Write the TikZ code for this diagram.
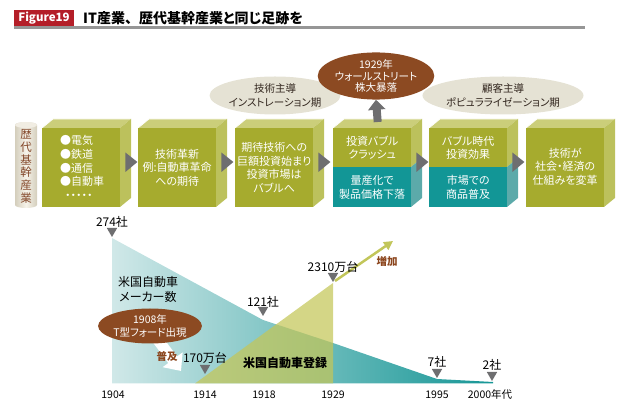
\documentclass[tikz,border=0pt]{standalone}
\usepackage{fontspec}
\setmainfont[RawFeature=+palt]{Noto Sans CJK JP}
\usetikzlibrary{arrows.meta,shapes.geometric,calc}
\definecolor{figred}{RGB}{180,30,40}
\definecolor{boxfront}{RGB}{166,171,46}
\definecolor{boxtop}{RGB}{203,206,122}
\definecolor{boxside}{RGB}{188,193,92}
\definecolor{tealfront}{RGB}{18,150,150}
\definecolor{tealside}{RGB}{92,170,170}
\definecolor{beigeell}{RGB}{229,226,212}
\definecolor{brownell}{RGB}{140,74,34}
\definecolor{triGray}{RGB}{110,110,112}
\definecolor{cylside}{RGB}{212,206,188}
\definecolor{cylmid}{RGB}{246,243,234}
\definecolor{cyltext}{RGB}{130,70,40}
\definecolor{chartL}{RGB}{208,232,232}
\definecolor{chartR}{RGB}{22,150,150}
\definecolor{regfill}{RGB}{196,198,88}
\definecolor{incr}{RGB}{194,198,90}
\definecolor{brownlabel}{RGB}{140,70,30}
\definecolor{ruleGray}{RGB}{150,150,150}
\definecolor{elltext}{RGB}{50,38,30}

\newcommand\cubeback[2]{%
  \fill[boxtop] (#1,128) -- (#1+11,119) -- (#1+89,119) -- (#1+78,128) -- cycle;
  \draw[white, line width=0.7pt] (#1,128) -- (#1+11,119) -- (#1+89,119);
  \ifnum#2=1
    \fill[boxside] (#1+78,128) -- (#1+89,119) -- (#1+89,158) -- (#1+78,167) -- cycle;
    \fill[tealside] (#1+78,167) -- (#1+89,158) -- (#1+89,198) -- (#1+78,207) -- cycle;
  \else
    \fill[boxside] (#1+78,128) -- (#1+89,119) -- (#1+89,198) -- (#1+78,207) -- cycle;
  \fi
}

\begin{document}
\begin{tikzpicture}[x=1pt,y=-1pt,
  font=\fontsize{11}{13.5}\selectfont,
  front/.style={fill=boxfront, minimum width=78pt, minimum height=79pt, inner sep=0pt, anchor=north west},
  fronthalf/.style={fill=boxfront, minimum width=78pt, minimum height=39pt, inner sep=0pt, anchor=north west},
  tealhalf/.style={fill=tealfront, minimum width=78pt, minimum height=40pt, inner sep=0pt, anchor=north west},
  boxtext/.style={text=white, align=center, inner sep=0pt},
  phase/.style={ellipse, fill=beigeell, text=elltext, align=center, inner sep=0pt},
  event/.style={ellipse, fill=brownell, text=white, align=center, inner sep=0pt},
  downtri/.style={regular polygon, regular polygon sides=3, shape border rotate=180, fill=triGray, minimum size=12pt, inner sep=0pt},
  chartlabel/.style={font=\fontsize{12}{14}\selectfont, inner sep=0pt},
  yearlabel/.style={font=\fontsize{10.5}{12}\selectfont, inner sep=0pt}]
\useasboundingbox (0,0) rectangle (630,411);

% title
\node[fill=figred, text=white, minimum width=60pt, minimum height=16pt, inner sep=0pt, font=\bfseries\fontsize{11.5}{12}\selectfont] (fig) at (44,18) {Figure19};
\node[anchor=west, inner sep=0pt, font=\bfseries\fontsize{14}{15}\selectfont] (title) at (83,18) {IT産業、\hspace{7pt}歴代基幹産業と同じ足跡を};
\draw[ruleGray, line width=2.5pt] (14,27.5) -- (585,27.5);

% cylinder
\shade[left color=cylside, right color=cylside, middle color=cylmid] (15,125) -- (15,205) arc[start angle=180, end angle=0, x radius=11, y radius=3] -- (37,125) arc[start angle=0, end angle=-180, x radius=11, y radius=3] -- cycle;
\fill[cylmid!85!cylside] (26,125) ellipse[x radius=11, y radius=3];
\node[text=cyltext, align=center, inner sep=0pt, font=\fontsize{11.5}{12.7}\selectfont] (cyl) at (26,166.5) {歴\\代\\基\\幹\\産\\業};

% cubes
\cubeback{42}{0}
\cubeback{138}{0}
\cubeback{235}{0}
\cubeback{333}{1}
\cubeback{429}{1}
\cubeback{526}{0}
\node[front] (b1) at (42,128) {};
\node[front] (b2) at (138,128) {};
\node[front] (b3) at (235,128) {};
\node[fronthalf] (b4) at (333,128) {};
\node[tealhalf] (b4t) at (333,167) {};
\node[fronthalf] (b5) at (429,128) {};
\node[tealhalf] (b5t) at (429,167) {};
\node[front] (b6) at (526,128) {};

\node[boxtext, align=left, anchor=west, font=\fontsize{11}{13.7}\selectfont] (t1) at (60,167.5) {●電気\\●鉄道\\●通信\\●自動車\\\ \ ・・・・・};
\node[boxtext] (t2) at (b2.center) {技術革新\\例:自動車革命\\への期待};
\node[boxtext] (t3) at (b3.center) {期待技術への\\巨額投資始まり\\投資市場は\\バブルへ};
\node[boxtext] (t4) at (b4.center) {投資バブル\\クラッシュ};
\node[boxtext] (t4t) at (b4t.center) {量産化で\\製品価格下落};
\node[boxtext] (t5) at (b5.center) {バブル時代\\投資効果};
\node[boxtext] (t5t) at (b5t.center) {市場での\\商品普及};
\node[boxtext] (t6) at ($(b6.center)+(0,-1)$) {技術が\\社会・経済の\\仕組みを変革};

% connector triangles
\foreach \a in {b1,b2,b3,b4,b5}
  \fill[triGray] ($(\a.north east)+(5,24.5)$) -- ($(\a.north east)+(17,34)$) -- ($(\a.north east)+(5,44)$) -- cycle;

% ellipses
\node[phase, minimum width=110pt, minimum height=38pt, font=\fontsize{10.5}{13.5}\selectfont] (p1) at (275,95.5) {技術主導\\インストレーション期};
\node[phase, minimum width=130pt, minimum height=38pt, font=\fontsize{10.5}{13.5}\selectfont] (p2) at (503,95.5) {顧客主導\\ポピュラライゼーション期};
\node[event, minimum width=97pt, minimum height=43pt, font=\fontsize{10.5}{11.8}\selectfont] (crash) at (376,76) {1929年\\ウォールストリート\\株大暴落};
\draw[triGray, line width=8pt, -{Triangle[width=17pt,length=10pt]}] ($(b4.north)+(5.5,-6)$) -- (crash.south);

% chart areas
\shade[left color=chartL, right color=chartR] (112,238) -- (263,320) -- (333,343) -- (437,379) -- (493,382) -- (493,383.5) -- (112,383.5) -- cycle;
\fill[regfill, opacity=0.72] (195,383.5) -- (333,283) -- (333,383.5) -- cycle;
\coordinate (peak) at (335,281);
\coordinate (trend) at (393,241);
\draw[incr, line width=2.5pt, -{Triangle[width=9pt,length=9pt]}] (peak) -- (trend);
\node[text=brownlabel, font=\bfseries\fontsize{10.5}{12}\selectfont, inner sep=0pt] (inc) at (387,261) {増加};

% ford event with white arrow
\coordinate (fordc) at (150,326);
\coordinate (fordtip) at (181,371);
\draw[white, line width=11pt, -{Triangle[width=24pt,length=14pt]}] ($(fordc)+(5,10)$) -- (fordtip);
\node[event, minimum width=96pt, minimum height=35pt, font=\fontsize{10.5}{12.5}\selectfont] (ford) at (fordc) {1908年\\T型フォード出現};
\node[text=brownlabel, font=\bfseries\fontsize{10.5}{12}\selectfont, inner sep=0pt] (spread) at (167,356) {普及};

% chart labels
\node[chartlabel, align=center, font=\fontsize{12}{15}\selectfont] (makers) at (148,289.5) {米国自動車\\メーカー数};
\node[chartlabel, font=\bfseries\fontsize{12}{14}\selectfont] (reg) at (285,363) {米国自動車登録};

\node[downtri] (m1) at (112,231) {};
\node[chartlabel] (l1) at (112,222) {274社};
\node[downtri] (m2) at (263,310) {};
\node[chartlabel] (l2) at (263,302) {121社};
\node[downtri] (m3) at (333,276) {};
\node[chartlabel] (l3) at (333,267) {2310万台};
\node[downtri] (m4) at (205,368) {};
\node[chartlabel] (l4) at (205,358) {170万台};
\node[downtri] (m5) at (437,372) {};
\node[chartlabel] (l5) at (437,362) {7社};
\node[downtri] (m6) at (492,375) {};
\node[chartlabel] (l6) at (492,365) {2社};

\node[yearlabel] (y1) at (113,395) {1904};
\node[yearlabel] (y2) at (205,395) {1914};
\node[yearlabel] (y3) at (264,395) {1918};
\node[yearlabel] (y4) at (333,395) {1929};
\node[yearlabel] (y5) at (437,395) {1995};
\node[yearlabel] (y6) at (490,395) {2000年代};
\end{tikzpicture}
\end{document}
